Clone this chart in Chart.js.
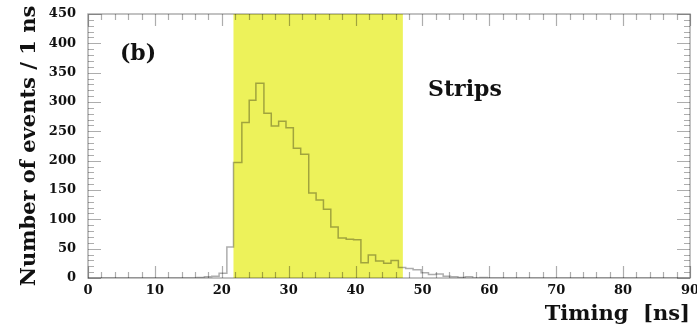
<!DOCTYPE html>
<html><head><meta charset="utf-8">
<script src="https://cdn.jsdelivr.net/npm/chart.js@4/dist/chart.umd.min.js"></script>
<style>html,body{margin:0;padding:0;background:#fff;}#wrap{width:697px;height:331px;}</style>
</head><body><div id="wrap"><canvas id="c" width="697" height="331"></canvas></div>
<script>
const binEdges = [0, 16.3, 17.4, 18.5, 19.6, 20.76, 21.75, 23.0, 24.1, 25.1, 26.3, 27.4, 28.5, 29.6, 30.7, 31.8, 33.0, 34.1, 35.2, 36.3, 37.4, 38.6, 39.7, 40.8, 41.9, 43.0, 44.2, 45.3, 46.4, 47.5, 48.6, 49.8, 50.9, 52.0, 53.1, 54.2, 55.3, 56.4, 57.5, 58.6, 59.7, 90];
const counts   = [0, 1, 2, 3, 8, 53, 197, 265, 303, 332, 281, 259, 267, 256, 221, 211, 145, 133, 117, 87, 68, 66, 65, 26, 39, 29, 25, 30, 18, 16, 14, 9, 6, 7, 3, 2, 1, 2, 0, 1, 0];
const timingWindow = [21.75, 47.07];
const xTickValues = [0, 10, 20, 30, 40, 50, 60, 70, 80, 90];
const yTickValues = [0, 50, 100, 150, 200, 250, 300, 350, 400, 450];
const xTitle = 'Timing  [ns]';
const yTitle = 'Number of events / 1 ns';
const panelLabel = '(b)';
const regionLabel = 'Strips';

const points = counts.map((c, i) => ({x: binEdges[i], y: c}));
points.push({x: binEdges[binEdges.length - 1], y: counts[counts.length - 1]});

const LINE = 'rgba(0,0,0,0.32)';
const SERIF = '"DejaVu Serif", serif';

const framePlugin = {
  id: 'frame',
  beforeDatasetsDraw(chart) {
    const {ctx, chartArea: a, scales: {x}} = chart;
    ctx.save();
    ctx.fillStyle = '#EDF25A';
    const x0 = x.getPixelForValue(timingWindow[0]);
    const x1 = x.getPixelForValue(timingWindow[1]);
    ctx.fillRect(x0, a.top, x1 - x0, a.bottom - a.top);
    ctx.restore();
  },
  afterDatasetsDraw(chart) {
    const {ctx, chartArea: a, scales: {x, y}} = chart;
    ctx.save();
    ctx.strokeStyle = LINE;
    ctx.lineWidth = 1.5;
    ctx.strokeRect(a.left, a.top, a.right - a.left, a.bottom - a.top);
    ctx.lineWidth = 1.2;
    ctx.beginPath();
    // x ticks: minor every 2 ns, major every 10
    for (let v = x.min; v <= x.max + 1e-6; v += 2) {
      const px = Math.round(x.getPixelForValue(v)) + 0.5;
      const major = Math.abs(v % 10) < 1e-6;
      const L = major ? 12 : 6;
      ctx.moveTo(px, a.bottom); ctx.lineTo(px, a.bottom - L);
      ctx.moveTo(px, a.top); ctx.lineTo(px, a.top + L);
    }
    for (let v = y.min; v <= y.max + 1e-6; v += 10) {
      const py = Math.round(y.getPixelForValue(v)) + 0.5;
      const major = Math.abs(v % 50) < 1e-6;
      const L = major ? 13 : 6;
      ctx.moveTo(a.left, py); ctx.lineTo(a.left + L, py);
      ctx.moveTo(a.right, py); ctx.lineTo(a.right - L, py);
    }
    ctx.stroke();
    ctx.restore();
  },
  afterDraw(chart) {
    const {ctx} = chart;
    ctx.save();
    ctx.fillStyle = '#111';
    ctx.font = 'bold 22px ' + SERIF;
    ctx.textAlign = 'center';
    ctx.textBaseline = 'middle';
    ctx.fillText(panelLabel, 138, 54);
    ctx.textAlign = 'left';
    ctx.fillText(regionLabel, 428, 90);
    ctx.restore();
  }
};

new Chart(document.getElementById('c'), {
  type: 'line',
  data: {
    datasets: [{
      data: points,
      stepped: 'before',
      borderColor: LINE,
      borderWidth: 1.5,
      pointRadius: 0,
      fill: false
    }]
  },
  options: {
    responsive: false,
    animation: false,
    devicePixelRatio: 1,
    layout: {padding: {top: 14, right: 7, left: 0, bottom: 0}},
    plugins: {legend: {display: false}, tooltip: {enabled: false}},
    scales: {
      x: {
        type: 'linear', min: 0, max: 90,
        afterBuildTicks: s => { s.ticks = xTickValues.map(v => ({value: v})); },
        grid: {display: false, drawTicks: false},
        border: {display: false},
        ticks: {autoSkip: false, maxRotation: 0, padding: 5, color: '#111',
                font: {family: SERIF, size: 13, weight: 'bold'}},
        title: {display: true, text: xTitle, align: 'end', color: '#111',
                font: {family: SERIF, size: 21, weight: 'bold'}, padding: {top: 0, bottom: 4}},
        afterFit: s => { s.height = 53; s.paddingLeft = 0; s.paddingRight = 0; }
      },
      y: {
        type: 'linear', min: 0, max: 450,
        afterBuildTicks: s => { s.ticks = yTickValues.map(v => ({value: v})); },
        grid: {display: false, drawTicks: false},
        border: {display: false},
        ticks: {autoSkip: false, padding: 12, color: '#111',
                font: {family: SERIF, size: 13, weight: 'bold'}},
        title: {display: true, text: yTitle, color: '#111',
                font: {family: SERIF, size: 21, weight: 'bold'}, padding: {top: 17, bottom: 0}},
        afterFit: s => { s.width = 88; s.paddingTop = 0; s.paddingBottom = 0; }
      }
    }
  },
  plugins: [framePlugin]
});
</script>
</body></html>
